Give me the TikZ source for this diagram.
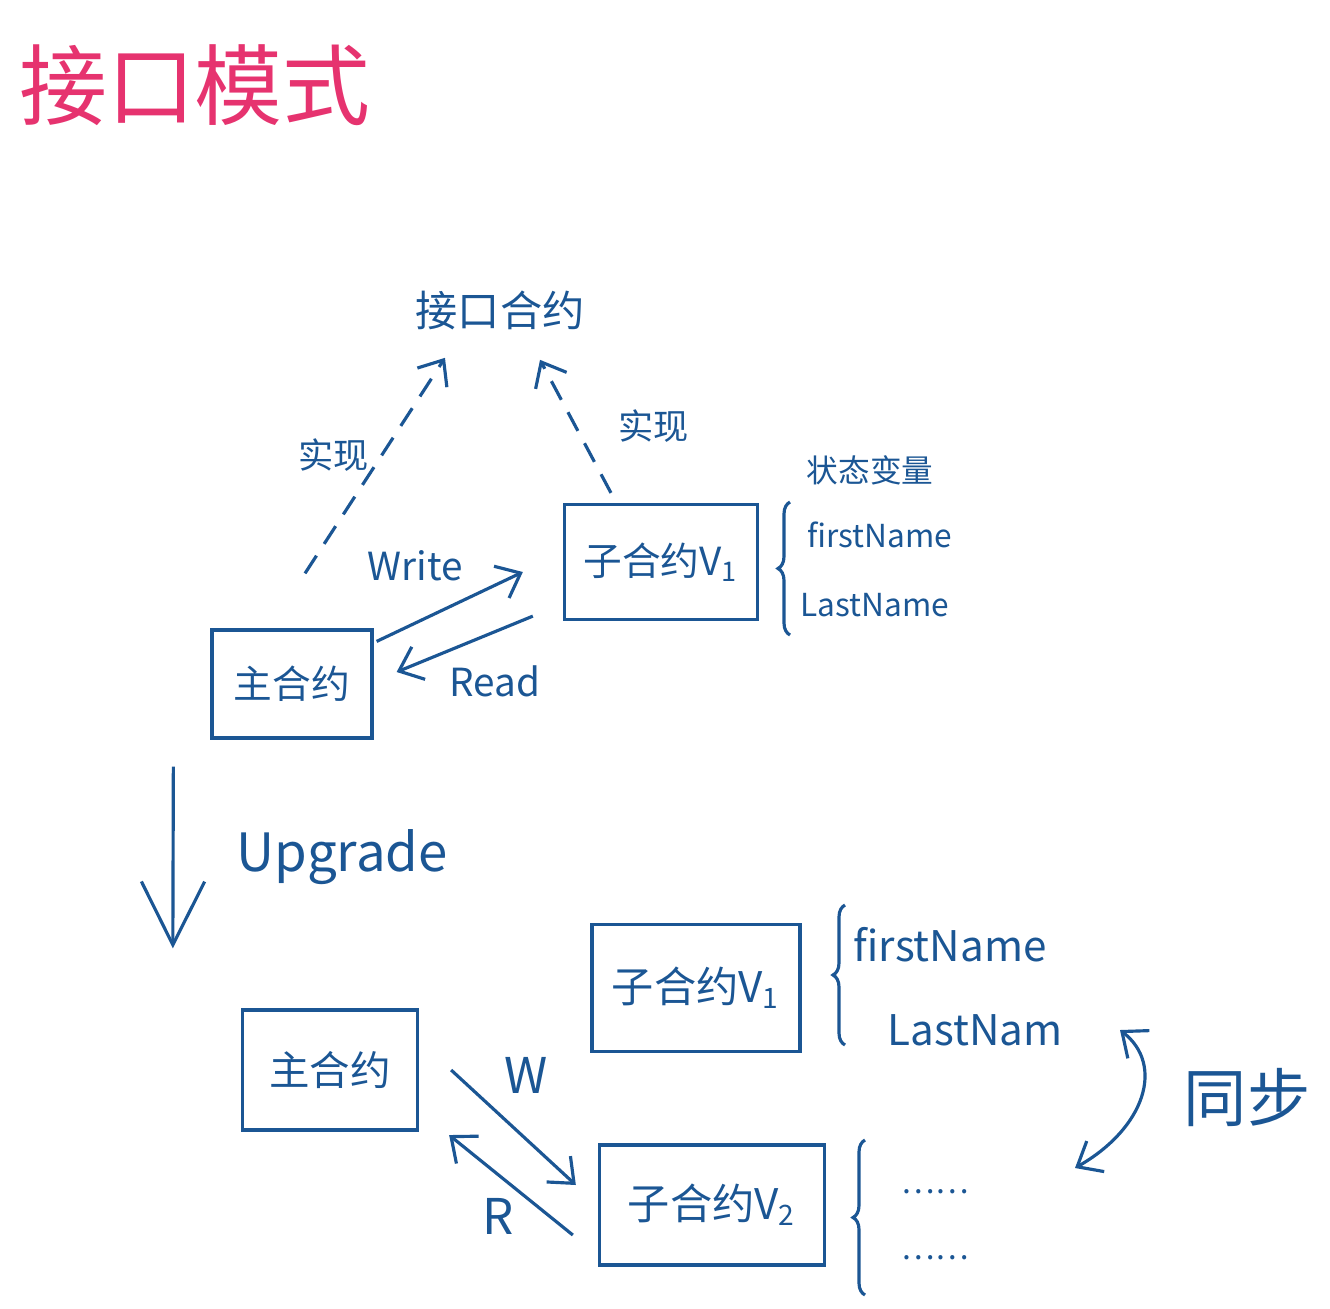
\documentclass[tikz,border=0pt]{standalone}
\usepackage{fontspec}
\setmainfont{Noto Sans CJK SC}
\usetikzlibrary{arrows.meta,decorations.pathreplacing}
\definecolor{ink}{HTML}{1B5694}
\definecolor{pen}{HTML}{E6336F}
\newcommand{\fs}[1]{\fontsize{#1}{#1}\selectfont}
\tikzset{
  box/.style={draw, inner sep=2pt},
  varf/.style={font=\fs{9}},
  varg/.style={font=\fs{12}},
  brc/.style={decorate, decoration={brace, amplitude=0.12cm}},
  impl/.style={dashed, dash pattern=on 6pt off 4pt, ->}
}

\begin{document}
\begin{tikzpicture}[x=0.01cm, y=-0.01cm, line width=0.9pt, color=ink,
  >={Straight Barb[length=6pt,width=10pt]}]
\useasboundingbox (0,0) rectangle (1330,1308);

\node[text=pen, font=\fs{25}] (Title) at (195,85) {接口模式};

% before upgrade
\node[font=\fs{12}] (Iface) at (500,310) {接口合约};
\node[box, minimum width=1.93cm, minimum height=1.15cm, font=\fs{11}] (SubV1) at (661,562) {子合约V\textsubscript{1}};
\node[box, minimum width=1.6cm, minimum height=1.08cm, font=\fs{11}] (Main) at (292,684) {主合约};
\node[font=\fs{9}] (StateVar) at (870,470) {状态变量};
\node[varf] (FirstA) at (880,535) {firstName};
\node[varf] (LastA) at (875,605) {LastName};
\draw[brc] (790,635) -- (790,502);

\draw[impl] ([xshift=0.13cm,yshift=0.55cm]Main.north) -- node[pos=0.55,left,font=\fs{10}]{实现} ([xshift=-0.55cm,yshift=-0.15cm]Iface.south);
\draw[impl] ([xshift=-0.5cm,yshift=0.1cm]SubV1.north) -- node[pos=0.5,right=0.3cm,font=\fs{10}]{实现} ([xshift=0.4cm,yshift=-0.17cm]Iface.south);

\draw[->] ([xshift=0.03cm,yshift=-0.13cm]Main.north east) -- node[pos=0.68,above left,font=\fs{11}]{Write} ([xshift=-0.4cm,yshift=-0.1cm]SubV1.west);
\draw[->] ([xshift=-0.3cm,yshift=0.05cm]SubV1.south west) -- node[pos=0.28,below=6pt,font=\fs{11}]{Read} ([xshift=0.23cm,yshift=0.12cm]Main.east);

% after upgrade
\node[box, minimum width=2.08cm, minimum height=1.27cm, font=\fs{12}] (SubVb1) at (696,988) {子合约V\textsubscript{1}};
\node[box, minimum width=1.75cm, minimum height=1.2cm, font=\fs{11.5}] (MainB) at (330,1070) {主合约};
\node[box, minimum width=2.25cm, minimum height=1.2cm, font=\fs{12}] (SubV2) at (712,1205) {子合约V\textsubscript{2}};
\node[varg] (FirstB) at (950,945) {firstName};
\node[varg] (LastB) at (975,1030) {LastNam};
\node[font=\fs{9}] (DotsA) at (935,1192) {……};
\node[font=\fs{9}] (DotsB) at (935,1258) {……};
\draw[brc] (845,1045) -- (845,905);
\draw[brc] (865,1295) -- (865,1140);

\draw[->, >={Straight Barb[length=18pt,width=18pt]}] ([xshift=-0.37cm,yshift=-0.27cm]Main.south west) -- node[midway,right=0.5cm,font=\fs{15}]{Upgrade} ([xshift=-0.68cm,yshift=0.6cm]MainB.north west);

\draw[->] ([xshift=0.32cm]MainB.east) -- node[pos=0.32,above right,font=\fs{14}]{W} ([xshift=-0.22cm,yshift=0.2cm]SubV2.west);
\draw[->] ([xshift=-0.25cm,yshift=-0.3cm]SubV2.west) -- node[pos=0.6,below=3pt,font=\fs{14}]{R} ([xshift=0.3cm,yshift=-0.65cm]MainB.east);

\coordinate (SyncA) at (1120,1030);
\coordinate (SyncB) at (1075,1168);
\draw[<->] (SyncA) .. controls +(45,35) and +(70,-40) .. node[right=0.3cm,font=\fs{18}]{同步} (SyncB);
\end{tikzpicture}
\end{document}
